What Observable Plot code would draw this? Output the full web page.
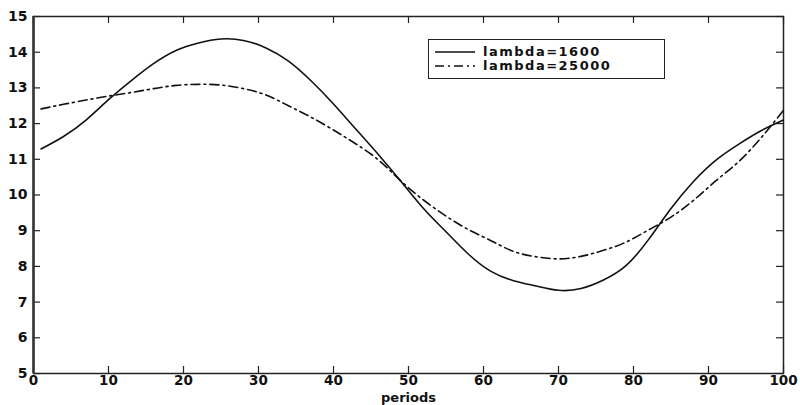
<!DOCTYPE html>
<html>
<head>
<meta charset="utf-8">
<script src="https://cdn.jsdelivr.net/npm/d3@7"></script>
<script src="https://cdn.jsdelivr.net/npm/@observablehq/plot@0.6"></script>
<style>
  html, body { margin: 0; padding: 0; background: #fff; }
  #wrap { position: relative; width: 800px; height: 405px; }
  #legend { position: absolute; left: 428px; top: 39px; width: 235px; height: 38px;
            border: 1.5px solid #222; background: #fff; font-family: "DejaVu Sans", sans-serif;
            font-weight: bold; font-size: 13px; letter-spacing: 1.5px; color: #111; }
  .row { position: absolute; left: 6px; height: 13px; display: flex; align-items: center; }
  .row span { margin-left: 8px; line-height: 13px; }
</style>
</head>
<body>
<div id="wrap"></div>
<script>
// ---- data ----
const periods = [1, 4, 7, 10, 13, 16, 19, 22, 25, 28, 31, 34, 37, 40, 43, 46, 49, 52, 55, 58, 61, 64, 67, 70, 73, 76, 79, 82, 85, 88, 91, 94, 97, 100];
const lambda1600 = [11.29, 11.64, 12.10, 12.67, 13.20, 13.68, 14.05, 14.26, 14.37, 14.33, 14.12, 13.75, 13.20, 12.55, 11.84, 11.13, 10.38, 9.62, 8.97, 8.34, 7.86, 7.60, 7.45, 7.33, 7.38, 7.62, 8.02, 8.75, 9.62, 10.38, 10.98, 11.42, 11.80, 12.10];
const lambda25000 = [12.41, 12.54, 12.66, 12.77, 12.87, 12.98, 13.07, 13.10, 13.08, 12.98, 12.80, 12.50, 12.18, 11.82, 11.43, 10.98, 10.39, 9.86, 9.41, 9.03, 8.72, 8.42, 8.27, 8.21, 8.28, 8.45, 8.68, 9.02, 9.38, 9.85, 10.40, 10.93, 11.60, 12.37];
const seriesNames = ["lambda=1600", "lambda=25000"];
const xTicks = [0, 10, 20, 30, 40, 50, 60, 70, 80, 90, 100];
const yTicks = [5, 6, 7, 8, 9, 10, 11, 12, 13, 14, 15];
const xLabel = "periods";

const rows = [];
periods.forEach((p, i) => {
  rows.push({period: p, value: lambda1600[i], series: seriesNames[0]});
  rows.push({period: p, value: lambda25000[i], series: seriesNames[1]});
});
const dashes = {[seriesNames[0]]: null, [seriesNames[1]]: "9,4,2,4"};

const W = 800, H = 405, mL = 33, mR = 17, mT = 16, mB = 32;
const frameW = W - mL - mR, frameH = H - mT - mB;
const tick = 7;

const chart = Plot.plot({
  width: W, height: H,
  marginLeft: mL, marginRight: mR, marginTop: mT, marginBottom: mB,
  style: {fontFamily: "DejaVu Sans, sans-serif", fontWeight: "bold", fontSize: "14px", color: "#111", background: "#fff"},
  x: {domain: [0, 100]},
  y: {domain: [5, 15]},
  marks: [
    Plot.axisX(xTicks, {tickSize: 0, tickPadding: 2, label: null, fontSize: 13.5}),
    Plot.axisY(yTicks, {tickSize: 0, tickPadding: 6, label: null, fontSize: 14}),
    // inward ticks on all four sides
    Plot.tickX(xTicks, {x: d => d, insetTop: frameH - tick, stroke: "#222", strokeWidth: 1.2}),
    Plot.tickX(xTicks, {x: d => d, insetBottom: frameH - tick, stroke: "#222", strokeWidth: 1.2}),
    Plot.tickY(yTicks, {y: d => d, insetRight: frameW - tick, stroke: "#222", strokeWidth: 1.2}),
    Plot.tickY(yTicks, {y: d => d, insetLeft: frameW - tick, stroke: "#222", strokeWidth: 1.2}),
    Plot.frame({stroke: "#222", strokeWidth: 1.5}),
    Plot.ruleX([0], {stroke: "#333", strokeWidth: 2.5}),
    Plot.line(rows.filter(d => d.series === seriesNames[0]), {x: "period", y: "value", stroke: "#111", strokeWidth: 1.6, curve: "natural"}),
    Plot.line(rows.filter(d => d.series === seriesNames[1]), {x: "period", y: "value", stroke: "#111", strokeWidth: 1.6, strokeDasharray: dashes[seriesNames[1]], curve: "natural"}),
    Plot.text([xLabel], {frameAnchor: "bottom", dy: 24.5, lineAnchor: "middle", fontSize: 13, fontWeight: "bold", text: d => d, style: "letter-spacing:1.2px"})
  ]
});
const wrap = document.getElementById("wrap");
wrap.appendChild(chart);

// legend
const legend = document.createElement("div");
legend.id = "legend";
seriesNames.forEach((name, i) => {
  const row = document.createElement("div");
  row.className = "row";
  row.style.top = (5 + i * 14) + "px";
  const svg = d3.create("svg").attr("width", 40).attr("height", 10);
  svg.append("line").attr("x1", 0).attr("x2", 40).attr("y1", 5).attr("y2", 5)
    .attr("stroke", "#111").attr("stroke-width", 1.6)
    .attr("stroke-dasharray", dashes[name]);
  row.appendChild(svg.node());
  const s = document.createElement("span");
  s.textContent = name;
  row.appendChild(s);
  legend.appendChild(row);
});
wrap.appendChild(legend);
</script>
</body>
</html>
